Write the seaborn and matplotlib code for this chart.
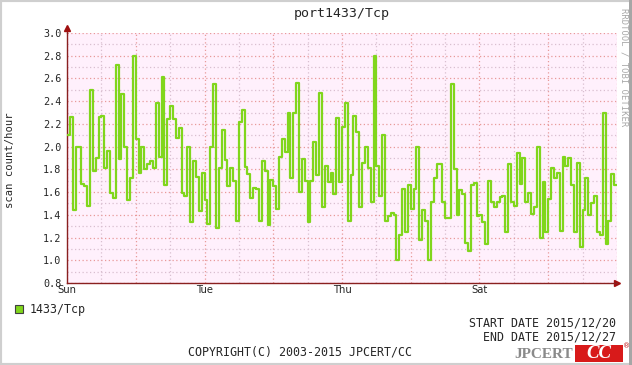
import numpy as np
import pandas as pd
import matplotlib.pyplot as plt
import matplotlib.ticker as mticker
from matplotlib.patches import Rectangle
import seaborn as sns

# chart text
title = "port1433/Tcp"
series_name = "1433/Tcp"
y_label = "scan count/hour"
start_date = "START DATE 2015/12/20"
end_date = "END DATE 2015/12/27"
copyright_text = "COPYRIGHT(C) 2003-2015 JPCERT/CC"
day_names = ["Sun", "Mon", "Tue", "Wed", "Thu", "Fri", "Sat", "Sun", "Mon"]

# hourly scan count (8 days x 24 h)
scan_rate = [
    2.10, 2.26, 1.44, 2.00, 2.00, 1.67, 1.65, 1.48, 2.50, 1.79, 1.90, 2.26,
    2.27, 1.81, 1.96, 1.59, 1.55, 2.72, 1.89, 2.46, 2.00, 1.53, 1.72, 2.80,
    2.07, 1.77, 2.00, 1.80, 1.85, 1.87, 1.81, 2.38, 1.91, 2.61, 1.66, 2.24,
    2.36, 2.24, 2.08, 2.16, 1.59, 1.57, 2.00, 1.34, 1.87, 1.73, 1.43, 1.77,
    1.53, 1.32, 2.00, 2.55, 1.28, 1.81, 2.15, 1.88, 1.65, 1.81, 1.70, 1.35,
    2.22, 2.32, 1.82, 1.76, 1.55, 1.64, 1.63, 1.35, 1.87, 1.79, 1.31, 1.71,
    1.65, 1.45, 1.91, 2.07, 1.95, 2.30, 1.72, 2.30, 2.56, 1.60, 1.89, 1.70,
    1.34, 1.70, 2.04, 1.75, 2.47, 1.47, 1.83, 1.69, 1.77, 1.58, 2.25, 1.69,
    2.17, 2.38, 1.35, 1.75, 2.27, 2.13, 1.47, 1.86, 2.00, 1.81, 1.51, 2.80,
    1.83, 1.57, 2.10, 1.35, 1.39, 1.42, 1.40, 1.00, 1.22, 1.63, 1.25, 1.66,
    1.45, 1.63, 2.00, 1.18, 1.44, 1.35, 1.00, 1.51, 1.72, 1.85, 1.85, 1.51,
    1.37, 1.37, 2.55, 1.80, 1.40, 1.62, 1.58, 1.15, 1.08, 1.66, 1.68, 1.39,
    1.40, 1.34, 1.14, 1.70, 1.51, 1.47, 1.51, 1.56, 1.57, 1.25, 1.85, 1.51,
    1.48, 1.94, 1.67, 1.90, 1.51, 1.59, 1.41, 1.47, 2.00, 1.20, 1.69, 1.25,
    1.54, 1.81, 1.72, 1.77, 1.26, 1.91, 1.83, 1.90, 1.66, 1.25, 1.86, 1.12,
    1.44, 1.72, 1.40, 1.50, 1.57, 1.25, 1.22, 2.30, 1.14, 1.35, 1.76, 1.66,
]

# step plot needs the closing edge of the last hour
df = pd.DataFrame({
    "hour": np.arange(len(scan_rate) + 1),
    "rate": scan_rate + scan_rate[-1:],
})

sns.set_style("white")
plt.rcParams["font.family"] = ["DejaVu Sans Mono", "DejaVu Sans"]

LINE = "#80d61c"
AXIS = "#8a2020"
MAJOR = "#e89a9a"
MINOR = "#d9bfd0"

fig = plt.figure(figsize=(6.32, 3.65), dpi=100)
ax = fig.add_axes([67 / 632, 1 - 283 / 365, 550 / 632, 250 / 365])
ax.set_facecolor("#fff0fc")

sns.lineplot(data=df, x="hour", y="rate", drawstyle="steps-post",
             color=LINE, lw=1.6, ax=ax, legend=False, zorder=3)

ax.set_xlim(0, 192)
ax.set_ylim(0.8, 3.0)
ax.set_xlabel("")
ax.set_ylabel("")

# x: red grid every day, light grid every 12 h, names every 2 days
ax.xaxis.set_major_locator(mticker.MultipleLocator(24))
ax.xaxis.set_minor_locator(mticker.MultipleLocator(12))
ax.xaxis.set_major_formatter(mticker.FuncFormatter(
    lambda v, p: day_names[int(v // 24)] if int(v // 24) % 2 == 0 and v < 180 else ""))
ax.yaxis.set_major_locator(mticker.MultipleLocator(0.2))
ax.yaxis.set_minor_locator(mticker.MultipleLocator(0.1))
ax.yaxis.set_major_formatter(mticker.FormatStrFormatter("%.1f"))

ax.grid(which="major", color=MAJOR, linestyle=(0, (1, 2)), lw=0.9, zorder=1)
ax.grid(which="minor", color=MINOR, linestyle=(0, (1, 2)), lw=0.9, zorder=1)

ax.tick_params(which="both", direction="in", length=2.5, width=0.8, color=AXIS)
ax.tick_params(axis="y", labelsize=7.3, pad=4)
ax.tick_params(axis="x", labelsize=7.2, pad=1.5)
for lab in ax.get_xticklabels():
    lab.set_fontfamily("DejaVu Sans")

for side in ["top", "right"]:
    ax.spines[side].set_visible(False)
for side in ["left", "bottom"]:
    ax.spines[side].set_color(AXIS)
    ax.spines[side].set_linewidth(1.0)

# axis arrows
ax.plot([0, 0], [1, 1.02], color=AXIS, lw=1, transform=ax.transAxes, clip_on=False)
ax.plot([0], [1.02], marker="^", ms=4.5, color="#a01010", transform=ax.transAxes, clip_on=False)
ax.plot([1], [0], marker=">", ms=4.5, color="#a01010", transform=ax.transAxes, clip_on=False)

# texts
fig.text(342 / 632, 1 - 13 / 365, title, ha="center", va="center", fontsize=9.5)
fig.text(10 / 632, 1 - 160 / 365, y_label, rotation=90, ha="center", va="center", fontsize=7.6)
fig.text(624 / 632, 1 - 67 / 365, "RRDTOOL / TOBI OETIKER", rotation=270,
         ha="center", va="center", fontsize=6.4, color="#a8a8a8")

fig.patches.append(Rectangle((15 / 632, 1 - 313 / 365), 8 / 632, 8 / 365,
                             transform=fig.transFigure, fc=LINE, ec="#404040", lw=0.8))
fig.text(30 / 632, 1 - 309 / 365, series_name, ha="left", va="center", fontsize=8.4)

fig.text(616 / 632, 1 - 323 / 365, start_date, ha="right", va="center", fontsize=8.4)
fig.text(616 / 632, 1 - 337 / 365, end_date, ha="right", va="center", fontsize=8.4)
fig.text(300 / 632, 1 - 352 / 365, copyright_text, ha="center", va="center", fontsize=8.4)

# JPCERT/CC logo
fig.text(544 / 632, 1 - 354 / 365, "JPCERT", ha="center", va="center", fontsize=11,
         fontweight="bold", family="Liberation Serif", color="#8a8a8a")
fig.patches.append(Rectangle((575 / 632, 1 - 362 / 365), 48 / 632, 17 / 365,
                             transform=fig.transFigure, fc="#d81a1a", ec="none"))
fig.text(599 / 632, 1 - 354 / 365, "CC", ha="center", va="center", fontsize=13.5,
         fontweight="bold", fontstyle="italic", family="Liberation Serif", color="white")
fig.text(627 / 632, 1 - 346 / 365, "\u00ae", ha="center", va="center", fontsize=5,
         family="DejaVu Sans", color="#c01010")

# frame around canvas
fig.patches.append(Rectangle((0, 0), 1, 1, transform=fig.transFigure,
                             fill=False, ec="#cfcfcf", lw=3))
fig.patches.append(Rectangle((629 / 632, 0), 3 / 632, 1, transform=fig.transFigure,
                             fc="#a6a6a6", ec="none"))

fig.savefig("out.png", dpi=100)
